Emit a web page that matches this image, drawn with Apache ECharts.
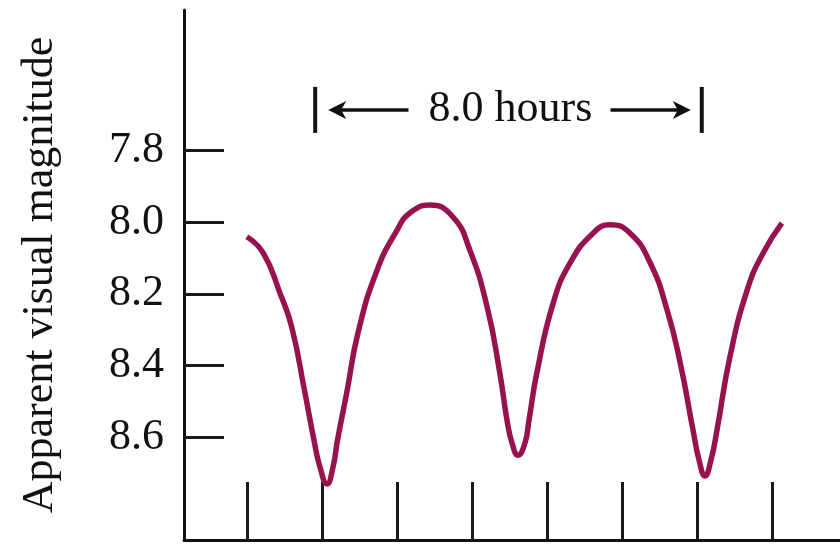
<!DOCTYPE html>
<html>
<head>
<meta charset="utf-8">
<script src="https://cdn.jsdelivr.net/npm/echarts@6/dist/echarts.min.js"></script>
<style>
html,body{margin:0;padding:0;background:#fff;}
#c{width:840px;height:544px;}
</style>
</head>
<body>
<div id="c"></div>
<script>
// Light curve: time (hours) vs apparent visual magnitude
const hours = [1.34, 1.69, 2.049, 2.298, 2.582, 2.774, 2.902, 3.052, 3.180, 3.276, 3.472, 3.713, 4.12, 4.55, 4.82, 5.25, 5.74, 6.10, 6.47, 6.74, 6.893, 7.000, 7.128, 7.277, 7.363, 7.53, 7.88, 8.24, 8.73, 9.09, 9.52, 9.95, 10.31, 10.59, 10.863, 10.991, 11.119, 11.247, 11.375, 11.65, 12.02, 12.36, 12.76];
const magnitude = [8.041, 8.086, 8.198, 8.292, 8.476, 8.607, 8.682, 8.729, 8.682, 8.607, 8.476, 8.309, 8.134, 8.022, 7.975, 7.953, 7.986, 8.078, 8.237, 8.420, 8.551, 8.615, 8.649, 8.615, 8.551, 8.420, 8.225, 8.114, 8.031, 8.008, 8.031, 8.114, 8.245, 8.392, 8.579, 8.662, 8.707, 8.662, 8.579, 8.376, 8.189, 8.086, 8.003];
const yTickValues = [7.8, 8.0, 8.2, 8.4, 8.6];
const xTickValues = [1.35, 2.95, 4.55, 6.15, 7.75, 9.35, 10.95, 12.55];
const periodLabel = '8.0 hours';
const periodSpan = [2.8, 11.05];   // hours, annotation bracket
const periodLevel = 7.688;          // magnitude level of the bracket

const serif = '"Liberation Serif", "DejaVu Serif", serif';
const chart = echarts.init(document.getElementById('c'));
const data = hours.map((h, i) => [h, magnitude[i]]);

chart.setOption({
  animation: false,
  backgroundColor: '#fff',
  grid: { left: 184, right: 0, top: 10, bottom: 4, containLabel: false },
  xAxis: {
    type: 'value', min: 0, max: 14,
    axisLine: { show: true, lineStyle: { color: '#111', width: 3 } },
    axisTick: { show: true, inside: true, length: 58, customValues: xTickValues, lineStyle: { color: '#1a1a1a', width: 3 } },
    axisLabel: { show: false },
    splitLine: { show: false }
  },
  yAxis: {
    type: 'value', inverse: true, min: 7.41, max: 8.885,
    name: 'Apparent visual magnitude', nameLocation: 'middle', nameGap: 122,
    nameTextStyle: { fontFamily: serif, fontSize: 44, color: '#111' },
    axisLine: { show: true, lineStyle: { color: '#111', width: 3 } },
    axisTick: { show: true, inside: true, length: 40, customValues: yTickValues, lineStyle: { color: '#1a1a1a', width: 3 } },
    axisLabel: { show: true, customValues: yTickValues, margin: 20, fontFamily: serif, fontSize: 44, color: '#111',
      formatter: v => v.toFixed(1) },
    splitLine: { show: false }
  },
  series: [{
    type: 'line', data: data, smooth: 0.5, showSymbol: false,
    lineStyle: { color: '#981250', width: 5.5 }
  }]
});

function drawBracket() {
  const pL = chart.convertToPixel({ gridIndex: 0 }, [periodSpan[0], periodLevel]);
  const pR = chart.convertToPixel({ gridIndex: 0 }, [periodSpan[1], periodLevel]);
  const y = pL[1];
  const cx = (pL[0] + pR[0]) / 2;
  const col = '#111';
  const els = [
    { type: 'line', shape: { x1: pL[0], y1: y - 23, x2: pL[0], y2: y + 23 }, style: { stroke: col, lineWidth: 4 } },
    { type: 'line', shape: { x1: pR[0], y1: y - 23, x2: pR[0], y2: y + 23 }, style: { stroke: col, lineWidth: 4 } },
    { type: 'line', shape: { x1: pL[0] + 22, y1: y, x2: cx - 100, y2: y }, style: { stroke: col, lineWidth: 3.5 } },
    { type: 'polygon', shape: { points: [[pL[0] + 13, y], [pL[0] + 31, y - 9], [pL[0] + 26, y], [pL[0] + 31, y + 9]] }, style: { fill: col } },
    { type: 'line', shape: { x1: cx + 102, y1: y, x2: pR[0] - 22, y2: y }, style: { stroke: col, lineWidth: 3.5 } },
    { type: 'polygon', shape: { points: [[pR[0] - 11, y], [pR[0] - 29, y - 9], [pR[0] - 24, y], [pR[0] - 29, y + 9]] }, style: { fill: col } },
    { type: 'text', x: cx + 2, y: y, style: { text: periodLabel, font: '44px ' + serif, fill: '#111', align: 'center', verticalAlign: 'middle' } }
  ];
  chart.setOption({ graphic: els });
}
drawBracket();
</script>
</body>
</html>
